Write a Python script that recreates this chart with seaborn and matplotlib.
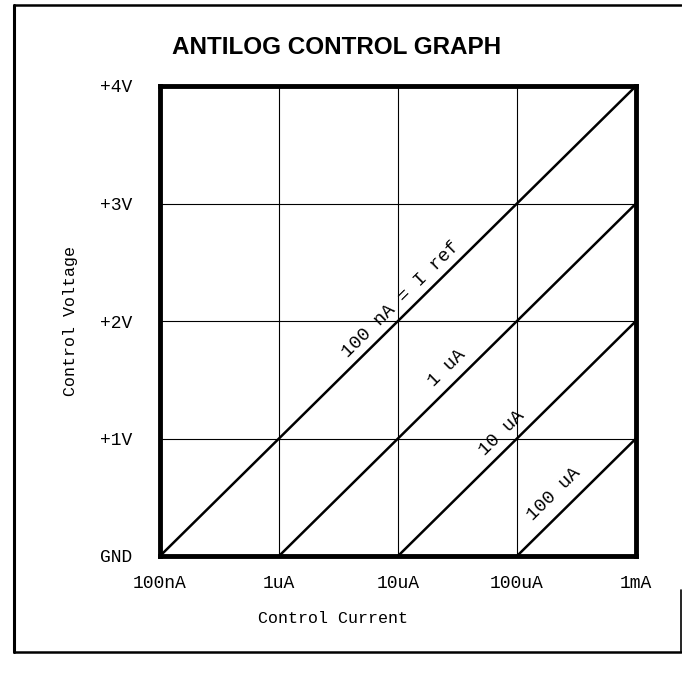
import numpy as np
import pandas as pd
import matplotlib
matplotlib.use("Agg")
import matplotlib.pyplot as plt
from matplotlib.lines import Line2D
import seaborn as sns

# ---- data ----
x_ticks = [1e-7, 1e-6, 1e-5, 1e-4, 1e-3]
x_tick_labels = ["100nA", "1uA", "10uA", "100uA", "1mA"]
y_ticks = [0, 1, 2, 3, 4]
y_tick_labels = ["GND", "+1V", "+2V", "+3V", "+4V"]

series_names = ["100 nA = I ref", "1 uA", "10 uA", "100 uA"]
start_current = [1e-7, 1e-6, 1e-5, 1e-4]
end_current = [1e-3, 1e-3, 1e-3, 1e-3]
start_voltage = [0, 0, 0, 0]
end_voltage = [4, 3, 2, 1]

# label anchor positions along each line (current, voltage)
label_current = [1e-7 * 10 ** 2.02, 1e-6 * 10 ** 1.41, 1e-5 * 10 ** 0.87, 1e-4 * 10 ** 0.31]
label_voltage = [2.18, 1.60, 1.05, 0.53]

rows = []
for n, x0, x1, y0, y1 in zip(series_names, start_current, end_current, start_voltage, end_voltage):
    rows.append({"series": n, "current": x0, "voltage": y0})
    rows.append({"series": n, "current": x1, "voltage": y1})
df = pd.DataFrame(rows)

sns.set_style("white")
plt.rcParams["font.family"] = ["Liberation Mono", "DejaVu Sans"]
plt.rcParams["text.color"] = "black"

W, H = 682, 673
fig = plt.figure(figsize=(W / 100, H / 100), dpi=100)
ax = fig.add_axes([160 / W, 1 - 556 / H, 476 / W, 470 / H])

sns.lineplot(data=df, x="current", y="voltage", hue="series",
             palette=["black"] * 4, linewidth=1.8, legend=False, ax=ax,
             estimator=None, sort=False)

ax.set_xscale("log")
ax.set_xlim(1e-7, 1e-3)
ax.set_ylim(0, 4)
ax.set_xticks(x_ticks)
ax.set_xticklabels(x_tick_labels)
ax.set_yticks(y_ticks)
ax.set_yticklabels(y_tick_labels)
ax.minorticks_off()
ax.grid(True, color="black", linewidth=0.8)
ax.tick_params(axis="both", length=0, labelsize=13, colors="black")
ax.tick_params(axis="x", pad=14)
ax.tick_params(axis="y", pad=20)
for s in ax.spines.values():
    s.set_visible(True)
    s.set_linewidth(3.5)
    s.set_color("black")

ax.set_xlabel("Control Current", fontsize=12, labelpad=14, color="black")
ax.xaxis.set_label_coords((333 - 160) / 476, -0.118)
ax.set_ylabel("Control Voltage", fontsize=12, labelpad=16, color="black")

# rotation angle for labels from display coordinates
p0 = ax.transData.transform((1e-7, 0))
p1 = ax.transData.transform((1e-3, 4))
ang = np.degrees(np.arctan2(p1[1] - p0[1], p1[0] - p0[0]))
for name, xc, yv in zip(series_names, label_current, label_voltage):
    ax.text(xc, yv, name, rotation=ang, rotation_mode="anchor",
            ha="center", va="center", fontsize=13.5, color="black")

fig.text(337 / W, 1 - 47 / H, "ANTILOG CONTROL GRAPH", ha="center", va="center",
         fontsize=17.5, fontweight="bold", color="black",
         family=["Liberation Sans", "DejaVu Sans"])

# outer frame
fx0, fx1 = 14 / W, 681 / W
fy_top, fy_bot = 1 - 5 / H, 1 - 652 / H
fig.add_artist(Line2D([fx0, fx0], [fy_bot, fy_top], color="black", linewidth=2.2))
fig.add_artist(Line2D([fx0, fx1], [fy_top, fy_top], color="black", linewidth=1.8))
fig.add_artist(Line2D([fx0, fx1], [fy_bot, fy_bot], color="black", linewidth=1.8))
fig.add_artist(Line2D([fx1, fx1], [fy_bot, 1 - 590 / H], color="black", linewidth=1.2))

fig.savefig("out.png", dpi=100)
